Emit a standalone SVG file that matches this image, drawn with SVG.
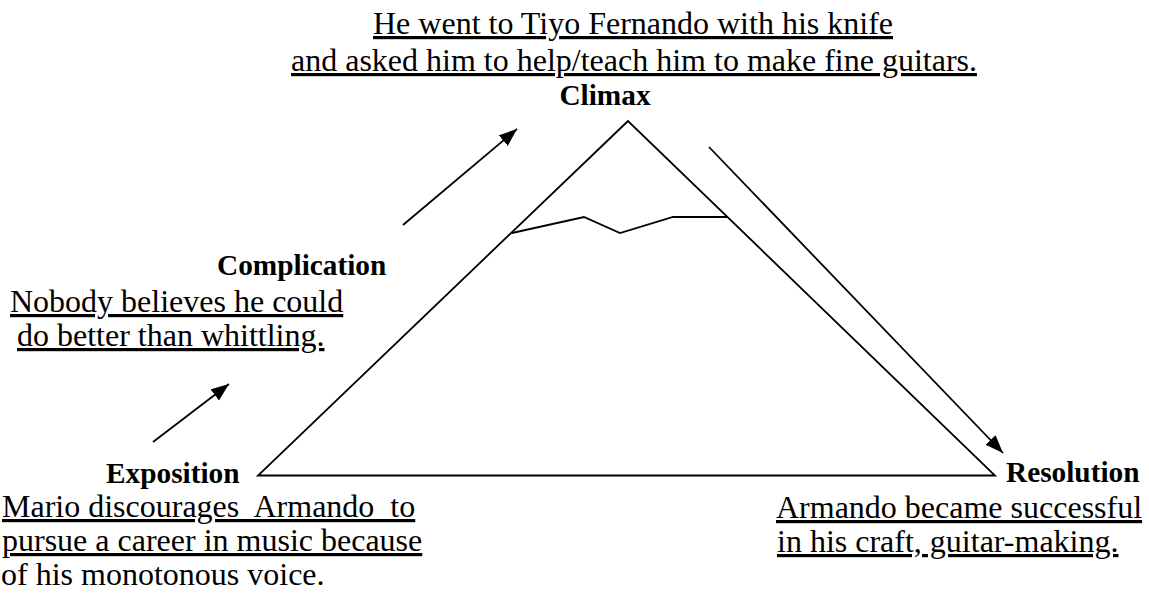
<svg xmlns="http://www.w3.org/2000/svg" width="1149" height="596" viewBox="0 0 1149 596">
<style>
.t{font-family:"Liberation Serif","Times New Roman",serif;font-size:32px;fill:#000}
.u{text-decoration:underline;text-decoration-thickness:2px}
.b{font-family:"Liberation Serif","Times New Roman",serif;font-size:29.3px;font-weight:bold;fill:#000}
.ln{fill:none;stroke:#000;stroke-width:1.8}
</style>
<defs>
<marker id="ah" markerUnits="userSpaceOnUse" markerWidth="19" markerHeight="15" refX="18" refY="7" orient="auto">
<path d="M0,0 L18,7 L0,14 z" fill="#000"/>
</marker>
</defs>
<rect width="1149" height="596" fill="#fff"/>
<g id="mountain">
<polygon class="ln" points="628,121 258,475.5 995,475.5"/>
<polyline class="ln" points="512,233 584,217 620,233 673,217 728,217"/>
</g>
<g id="connectors">
<line class="ln" x1="153" y1="442" x2="229" y2="384" marker-end="url(#ah)"/>
<line class="ln" x1="403" y1="225" x2="517" y2="129" marker-end="url(#ah)"/>
<line class="ln" x1="709" y1="147" x2="1003" y2="453" marker-end="url(#ah)"/>
</g>
<g id="climax">
<text class="t u" x="373" y="34">He went to Tiyo Fernando with his knife</text>
<text class="t u" x="291" y="71">and asked him to help/teach him to make fine guitars.</text>
<text class="b" x="605" y="105" text-anchor="middle">Climax</text>
</g>
<g id="complication">
<text class="b" x="217" y="275">Complication</text>
<text class="t u" x="10" y="312">Nobody believes he could</text>
<text class="t u" x="17" y="346">do better than whittling.</text>
</g>
<g id="exposition">
<text class="b" x="106" y="483">Exposition</text>
<text class="t u" x="2" y="517" xml:space="preserve">Mario discourages  Armando  to</text>
<text class="t u" x="2" y="551">pursue a career in music because</text>
<text class="t" x="1" y="585">of his monotonous voice.</text>
</g>
<g id="resolution">
<text class="b" x="1006" y="482">Resolution</text>
<text class="t u" x="776" y="518">Armando became successful</text>
<text class="t u" x="777" y="552">in his craft, guitar-making.</text>
</g>
</svg>
